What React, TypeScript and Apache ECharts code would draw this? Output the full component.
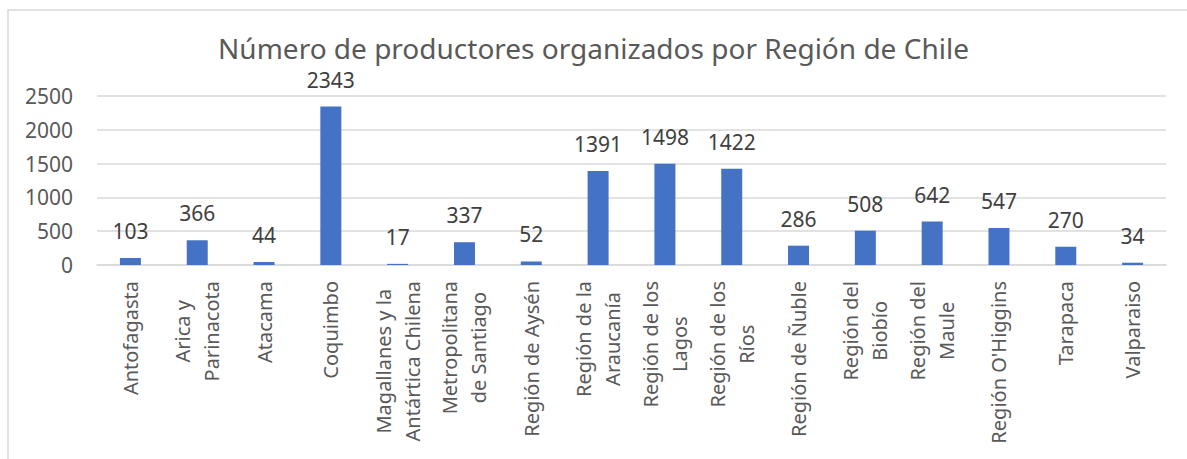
import React, { useEffect, useRef } from "react";
import * as echarts from "echarts";

const categories: string[] = [
  "Antofagasta",
  "Arica y\nParinacota",
  "Atacama",
  "Coquimbo",
  "Magallanes y la\nAntártica Chilena",
  "Metropolitana\nde Santiago",
  "Región de Aysén",
  "Región de la\nAraucanía",
  "Región de los\nLagos",
  "Región de los\nRíos",
  "Región de Ñuble",
  "Región del\nBiobío",
  "Región del\nMaule",
  "Región O'Higgins",
  "Tarapaca",
  "Valparaiso",
];

const productores: number[] = [103, 366, 44, 2343, 17, 337, 52, 1391, 1498, 1422, 286, 508, 642, 547, 270, 34];

const yTicks = { min: 0, max: 2500, interval: 500 };

const titleText = "Número de productores organizados por Región de Chile";

const FONT = "'Noto Sans', 'Open Sans', sans-serif";

export default function App() {
  const ref = useRef<HTMLDivElement>(null);
  useEffect(() => {
    if (!ref.current) return;
    const chart = echarts.init(ref.current, null, { renderer: "svg" });
    chart.setOption({
      animation: false,
      backgroundColor: "#ffffff",
      textStyle: { fontFamily: FONT },
      title: {
        text: titleText,
        left: "center",
        top: 33,
        padding: 0,
        textStyle: { fontFamily: FONT, fontSize: 28, lineHeight: 30, fontWeight: "normal", color: "#595959" },
      },
      graphic: [
        {
          type: "rect",
          shape: { x: 8, y: 10, width: 1200, height: 470 },
          style: { fill: "none", stroke: "#D9D9D9", lineWidth: 1.5 },
          silent: true,
        },
      ],
      grid: { left: 97, right: 21, top: 96, bottom: 194, containLabel: false },
      xAxis: {
        type: "category",
        data: categories,
        axisLine: { lineStyle: { color: "#D9D9D9", width: 1.5 } },
        axisTick: { show: false },
        axisLabel: {
          rotate: 90,
          interval: 0,
          margin: 16,
          fontFamily: FONT,
          fontSize: 20,
          color: "#595959",
          lineHeight: 29,
          formatter: (v: string) =>
            v
              .split("\n")
              .map((l) => `{c|${l}}`)
              .join("\n"),
          rich: {
            c: { align: "center", fontFamily: FONT, fontSize: 20, color: "#595959", lineHeight: 29 },
          },
        },
      },
      yAxis: {
        type: "value",
        min: yTicks.min,
        max: yTicks.max,
        interval: yTicks.interval,
        axisLine: { show: false },
        axisTick: { show: false },
        splitLine: { lineStyle: { color: "#D9D9D9", width: 1.5 } },
        axisLabel: {
          margin: 24,
          fontFamily: FONT,
          fontSize: 21,
          color: "#595959",
          formatter: (v: number) => String(v),
        },
      },
      series: [
        {
          type: "bar",
          data: productores,
          barWidth: 21,
          itemStyle: { color: "#4472C4" },
          label: {
            show: true,
            position: "top",
            distance: 16,
            fontFamily: FONT,
            fontSize: 21,
            lineHeight: 22,
            color: "#404040",
          },
        },
      ],
    });
    return () => chart.dispose();
  }, []);
  return (
    <div
      ref={ref}
      style={{ position: "fixed", left: 0, top: 0, width: 1187, height: 459, background: "#fff" }}
    />
  );
}
